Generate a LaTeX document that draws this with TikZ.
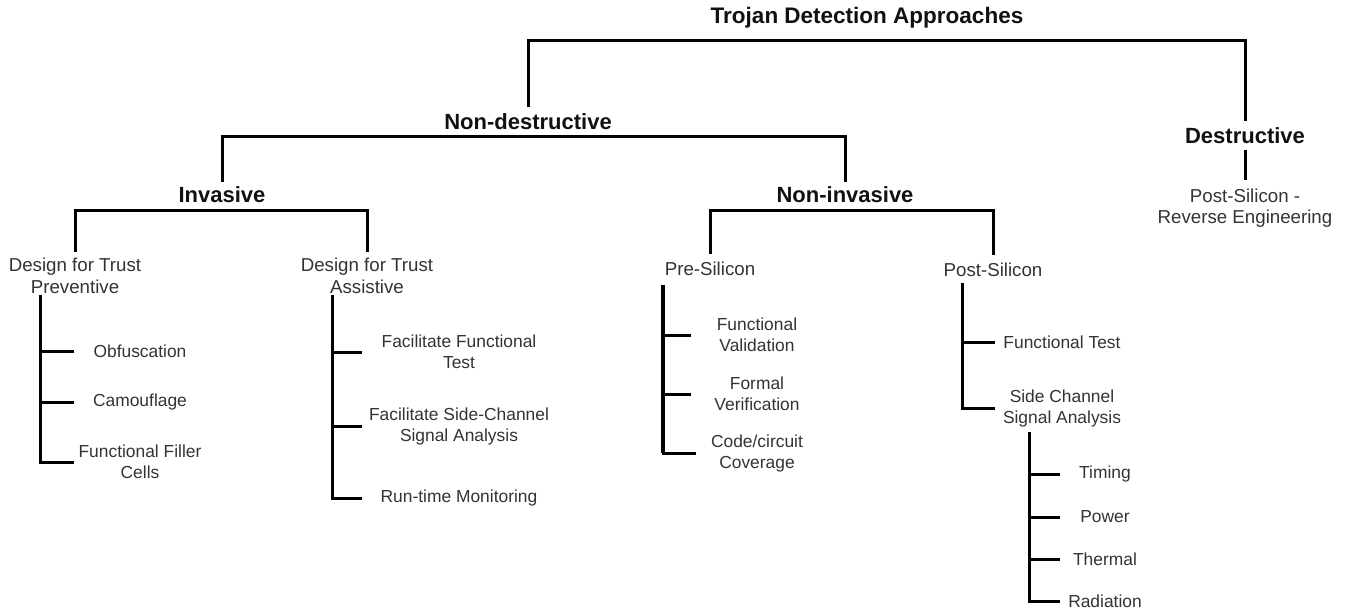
\documentclass[tikz,border=0pt]{standalone}
\usepackage{fontspec}
\setmainfont{Liberation Sans}
\usepackage{tikz}
\usetikzlibrary{positioning}
\usepackage{xcolor}
\definecolor{tdgray}{RGB}{51,51,51}
\definecolor{tdblack}{RGB}{17,17,17}
\newcommand{\headfont}{\fontsize{22}{26}\selectfont\bfseries}
\newcommand{\subfont}{\fontsize{18.7}{21.5}\selectfont}
\newcommand{\leaffont}{\fontsize{17.4}{21}\selectfont}
\tikzstyle{head} = [font=\headfont, text=tdblack, inner xsep=2pt, inner ysep=6pt]
\tikzstyle{sub} = [font=\subfont, text=tdgray, align=center, inner xsep=2pt, inner ysep=6pt]
\tikzstyle{leaf} = [font=\leaffont, text=tdgray, align=center, inner xsep=0pt, inner ysep=6pt]
\tikzstyle{link} = [line width=3pt, color=black]

\begin{document}
\begin{tikzpicture}[x=1pt, y=-1pt]
\useasboundingbox (0,0) rectangle (1347,613);

% Root
\node[head, font=\fontsize{22.5}{26}\selectfont\bfseries] (root) at (867,18) {Trojan Detection Approaches};
\node[head, inner ysep=7pt] (nondes) at (528,122) {Non-destructive};
\node[head] (des) at (1245,135.5) {Destructive};
\coordinate (rootbar) at (867,40);
\draw[link] (nondes.north) |- (rootbar) -| (des.north);

% Destructive
\node[sub, inner ysep=8pt] (reveng) at (1245,208) {Post-Silicon -\\Reverse Engineering};
\draw[link] (des) -- (reveng);

% Non-destructive
\node[head, inner ysep=5pt] (inv) at (222,195) {Invasive};
\node[head, inner ysep=5pt] (noninv) at (845,195) {Non-invasive};
\coordinate (ndbar) at (528,136);
\draw[link] (inv.north) |- (ndbar) -| (noninv.north);

% Invasive
\node[sub] (prev) at (75,276) {Design for Trust\\Preventive};
\node[sub] (asst) at (367,276) {Design for Trust\\Assistive};
\coordinate (invbar) at (222,210);
\draw[link] (prev.north) |- (invbar) -| (asst.north);

% Non-invasive
\node[sub, inner ysep=8pt] (pre) at (710,269) {Pre-Silicon};
\node[sub, inner ysep=8pt] (post) at (993,270) {Post-Silicon};
\coordinate (nibar) at (845,210);
\draw[link] (pre.north) |- (nibar) -| (post.north);

% Preventive techniques
\node[leaf, minimum width=132pt] (obf) at (140,351) {Obfuscation};
\node[leaf, minimum width=132pt] (camo) at (140,402) {Camouflage};
\node[leaf, minimum width=132pt] (filler) at (140,462) {Functional Filler\\Cells};
\coordinate (prevtrunk) at (40,295);
\foreach \n in {obf,camo,filler}
  \draw[link] (prevtrunk) |- (\n.west);

% Assistive techniques
\node[leaf, minimum width=194pt] (facfun) at (459,352) {Facilitate Functional\\Test};
\node[leaf, minimum width=194pt] (facside) at (459,426) {Facilitate Side-Channel\\Signal Analysis};
\node[leaf, minimum width=194pt] (runtime) at (459,498) {Run-time Monitoring};
\coordinate (asstrunk) at (332,295);
\foreach \n in {facfun,facside,runtime}
  \draw[link] (asstrunk) |- (\n.west);

% Pre-silicon techniques
\node[leaf, minimum width=132pt] (funval) at (757,335) {Functional\\Validation};
\node[leaf, minimum width=132pt] (formal) at (757,394) {Formal\\Verification};
\node[leaf, minimum width=122pt] (cover) at (757,453) {Code/circuit\\Coverage};
\coordinate (pretrunk) at (663,285);
\draw[link, line width=4.5pt] (pretrunk) -- (pretrunk |- cover.west);
\foreach \n in {funval,formal,cover}
  \draw[link] (pretrunk) |- (\n.west);

% Post-silicon techniques
\node[leaf, minimum width=134pt] (ftest) at (1062,342) {Functional Test};
\node[leaf, minimum width=134pt] (side) at (1062,408) {Side Channel\\Signal Analysis};
\coordinate (posttrunk) at (962,283);
\foreach \n in {ftest,side}
  \draw[link] (posttrunk) |- (\n.west);

% Side-channel signals
\node[leaf, minimum width=90pt] (timing) at (1105,474) {Timing};
\node[leaf, minimum width=90pt] (power) at (1105,517) {Power};
\node[leaf, minimum width=90pt] (thermal) at (1105,559) {Thermal};
\node[leaf, minimum width=90pt] (rad) at (1105,601) {Radiation};
\coordinate (sidetrunk) at (1029,432);
\foreach \n in {timing,power,thermal,rad}
  \draw[link] (sidetrunk) |- (\n.west);
\end{tikzpicture}
\end{document}
